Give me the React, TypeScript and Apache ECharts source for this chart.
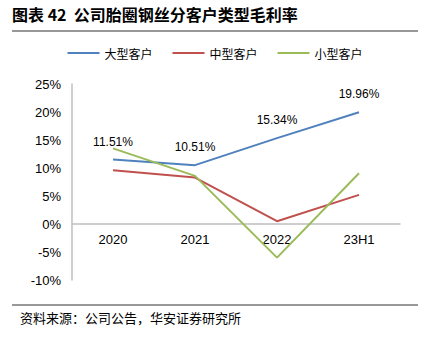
import React, { useEffect, useRef } from "react";
import * as echarts from "echarts";

const categories = ["2020", "2021", "2022", "23H1"];
const largeCustomers = [11.51, 10.51, 15.34, 19.96];
const midCustomers = [9.6, 8.3, 0.5, 5.2];
const smallCustomers = [13.5, 8.6, -6.0, 9.05];
const seriesNames = ["大型客户", "中型客户", "小型客户"];
const titleText = "图表 42  公司胎圈钢丝分客户类型毛利率";
const sourceText = "资料来源：公司公告，华安证券研究所";

export default function App() {
  const ref = useRef<HTMLDivElement>(null);
  useEffect(() => {
    if (!ref.current) return;
    const chart = echarts.init(ref.current, undefined, { renderer: "svg" });
    const cjk = '"Noto Sans CJK SC", sans-serif';
    const latin = '"Liberation Sans", Arial, sans-serif';
    chart.setOption({
      animation: false,
      backgroundColor: "#ffffff",
      graphic: [
        {
          type: "text",
          left: 12,
          top: 6,
          style: { text: titleText, font: `bold 16px ${cjk}`, fill: "#000" },
        },
        {
          type: "line",
          shape: { x1: 12, y1: 31, x2: 418, y2: 31 },
          style: { stroke: "#333", lineWidth: 1 },
        },
        {
          type: "line",
          shape: { x1: 12, y1: 305, x2: 418, y2: 305 },
          style: { stroke: "#333", lineWidth: 1 },
        },
        {
          type: "text",
          left: 20,
          top: 311,
          style: { text: sourceText, font: `13px ${cjk}`, fill: "#000" },
        },
      ],
      legend: {
        data: seriesNames,
        top: 42,
        left: "center",
        icon: "rect",
        itemWidth: 32,
        itemHeight: 2,
        itemGap: 20,
        textStyle: { fontFamily: cjk, fontSize: 12, color: "#000" },
      },
      grid: { left: 72, right: 30, top: 84, bottom: 57 },
      xAxis: {
        type: "category",
        data: categories,
        boundaryGap: true,
        position: "bottom",
        offset: -56,
        axisLine: { onZero: false, lineStyle: { color: "#bfbfbf", width: 1.5 } },
        axisTick: { show: false },
        axisLabel: { fontFamily: latin, fontSize: 13, color: "#000", margin: 9 },
        z: 1,
      },
      yAxis: {
        type: "value",
        min: -10,
        max: 25,
        interval: 5,
        axisLine: { show: true, lineStyle: { color: "#bfbfbf", width: 1.5 } },
        axisTick: { show: false },
        splitLine: { show: false },
        axisLabel: {
          fontFamily: latin,
          fontSize: 13,
          color: "#000",
          margin: 11,
          formatter: (v: number) => `${v}%`,
        },
      },
      series: [
        {
          name: seriesNames[0],
          type: "line",
          data: largeCustomers,
          symbol: "circle",
          symbolSize: 0,
          showSymbol: true,
          lineStyle: { color: "#4F81BD", width: 2 },
          itemStyle: { color: "#4F81BD" },
          label: {
            show: true,
            position: "top",
            distance: 12,
            fontFamily: latin,
            fontSize: 12,
            color: "#000",
            formatter: (p: any) => `${Number(p.value).toFixed(2)}%`,
          },
          z: 3,
        },
        {
          name: seriesNames[1],
          type: "line",
          data: midCustomers,
          symbol: "none",
          lineStyle: { color: "#C0504D", width: 2 },
          itemStyle: { color: "#C0504D" },
          z: 3,
        },
        {
          name: seriesNames[2],
          type: "line",
          data: smallCustomers,
          symbol: "none",
          lineStyle: { color: "#9BBB59", width: 2 },
          itemStyle: { color: "#9BBB59" },
          z: 3,
        },
      ],
    });
    return () => chart.dispose();
  }, []);
  return <div ref={ref} style={{ width: 430, height: 337, position: "absolute", left: 0, top: 0 }} />;
}
